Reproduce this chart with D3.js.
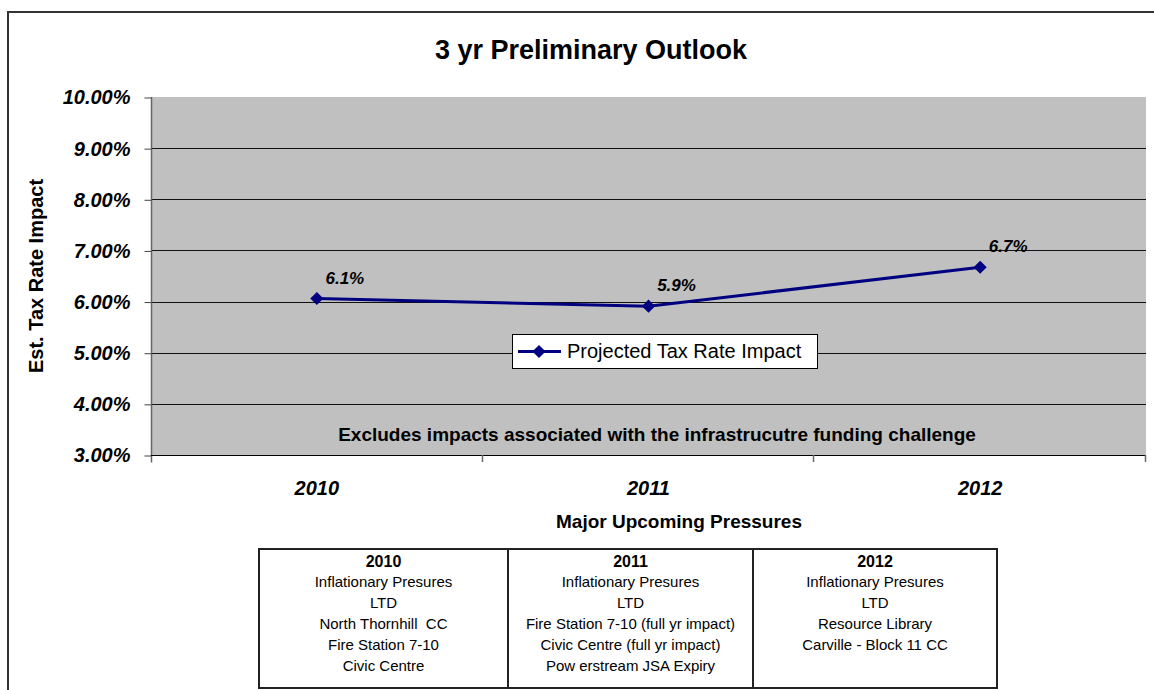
<!DOCTYPE html>
<html>
<head>
  <meta charset="utf-8">
  <script src="https://d3js.org/d3.v7.min.js"></script>
  <style>
    body { margin: 0; background: #fff; }
    text { font-family: "Liberation Sans", Arial, sans-serif; white-space: pre; }
  </style>
</head>
<body>
<script>
// chart data
var years = ["2010", "2011", "2012"];
var impact = [0.0606, 0.0591, 0.0667];
var seriesName = "Projected Tax Rate Impact";
var yTickValues = [0.03, 0.04, 0.05, 0.06, 0.07, 0.08, 0.09, 0.10];
var pressures2010 = ["Inflationary Presures", "LTD", "North Thornhill  CC", "Fire Station 7-10", "Civic Centre"];
var pressures2011 = ["Inflationary Presures", "LTD", "Fire Station 7-10 (full yr impact)", "Civic Centre (full yr impact)", "Pow erstream JSA Expiry"];
var pressures2012 = ["Inflationary Presures", "LTD", "Resource Library", "Carville - Block 11 CC"];

var width = 1154, height = 690;
var svg = d3.select("body").append("svg")
  .attr("width", width)
  .attr("height", height);

// outer chart border
svg.append("rect")
  .attr("x", 8).attr("y", 12)
  .attr("width", 1160).attr("height", 700)
  .style("fill", "none")
  .style("stroke", "#333")
  .style("stroke-width", 2);

/*
  plot area
*/
var plot = { left: 151, right: 1146, top: 97, bottom: 455 };

var x = d3.scaleBand()
  .domain(years)
  .range([plot.left, plot.right]);

var y = d3.scaleLinear()
  .domain([0.03, 0.10])
  .range([plot.bottom, plot.top]);

svg.append("rect")
  .attr("x", plot.left).attr("y", plot.top)
  .attr("width", plot.right - plot.left)
  .attr("height", plot.bottom - plot.top)
  .style("fill", "#c0c0c0");

// gridlines
svg.selectAll("line.grid")
  .data(yTickValues.filter(function (d) { return d > 0.03 && d < 0.10; }))
  .enter().append("line")
    .attr("class", "grid")
    .attr("x1", plot.left).attr("x2", plot.right)
    .attr("y1", function (d) { return Math.round(y(d)) + 0.5; })
    .attr("y2", function (d) { return Math.round(y(d)) + 0.5; })
    .style("stroke", "#111")
    .style("stroke-width", 1);

// y axis
var yAxis = d3.axisLeft(y)
  .tickValues(yTickValues)
  .tickSize(7)
  .tickFormat(d3.format(".2%"));

var gy = svg.append("g")
  .attr("transform", "translate(" + (plot.left + 0.5) + ",0.5)")
  .call(yAxis);
gy.select(".domain")
  .attr("d", "M0," + (plot.top - 0.5) + "V" + (plot.bottom + 7))
  .style("stroke", "#666")
  .style("stroke-width", 1.5);
gy.selectAll(".tick line").style("stroke", "#444");
gy.selectAll(".tick text")
  .attr("x", -21)
  .style("font-size", "20px")
  .style("font-weight", "bold")
  .style("font-style", "italic")
  .style("fill", "#000");

// x axis
svg.append("line")
  .attr("x1", plot.left).attr("x2", plot.right)
  .attr("y1", plot.bottom + 0.5).attr("y2", plot.bottom + 0.5)
  .style("stroke", "#000");

svg.selectAll("line.xtick")
  .data(years)
  .enter().append("line")
    .attr("class", "xtick")
    .attr("x1", function (d) { return Math.round(x(d) + x.bandwidth()) - 0.5; })
    .attr("x2", function (d) { return Math.round(x(d) + x.bandwidth()) - 0.5; })
    .attr("y1", plot.bottom)
    .attr("y2", plot.bottom + 7)
    .style("stroke", "#666")
    .style("stroke-width", 1.5);

svg.selectAll("text.xlabel")
  .data(years)
  .enter().append("text")
    .attr("class", "xlabel")
    .attr("x", function (d) { return x(d) + x.bandwidth() / 2; })
    .attr("y", 495)
    .attr("text-anchor", "middle")
    .style("font-size", "20px")
    .style("font-weight", "bold")
    .style("font-style", "italic")
    .text(function (d) { return d; });

/*
  titles
*/
svg.append("text")
  .attr("x", 591).attr("y", 59)
  .attr("text-anchor", "middle")
  .style("font-size", "27px")
  .style("font-weight", "bold")
  .text("3 yr Preliminary Outlook");

svg.append("text")
  .attr("transform", "translate(43," + ((plot.top + plot.bottom) / 2) + ") rotate(-90)")
  .attr("text-anchor", "middle")
  .style("font-size", "20px")
  .style("font-weight", "bold")
  .text("Est. Tax Rate Impact");

svg.append("text")
  .attr("x", 679).attr("y", 528)
  .attr("text-anchor", "middle")
  .style("font-size", "19px")
  .style("font-weight", "bold")
  .text("Major Upcoming Pressures");

svg.append("text")
  .attr("x", 657).attr("y", 441)
  .attr("text-anchor", "middle")
  .style("font-size", "19px")
  .style("font-weight", "bold")
  .text("Excludes impacts associated with the infrastrucutre funding challenge");

/*
  series
*/
var line = d3.line()
  .x(function (d, i) { return x(years[i]) + x.bandwidth() / 2; })
  .y(function (d) { return y(d); });

svg.append("path")
  .datum(impact)
  .attr("d", line)
  .style("fill", "none")
  .style("stroke", "#000080")
  .style("stroke-width", 3);

var diamond = d3.symbol().type(d3.symbolDiamond2).size(110);

svg.selectAll("path.marker")
  .data(impact)
  .enter().append("path")
    .attr("class", "marker")
    .attr("d", diamond)
    .attr("transform", function (d, i) {
      return "translate(" + (x(years[i]) + x.bandwidth() / 2) + "," + y(d) + ")";
    })
    .style("fill", "#000080");

svg.selectAll("text.value")
  .data(impact)
  .enter().append("text")
    .attr("class", "value")
    .attr("x", function (d, i) { return x(years[i]) + x.bandwidth() / 2 + 28; })
    .attr("y", function (d) { return y(d) - 15; })
    .attr("text-anchor", "middle")
    .style("font-size", "17px")
    .style("font-weight", "bold")
    .style("font-style", "italic")
    .text(function (d) { return d3.format(".1%")(d); });

/*
  legend
*/
var legend = svg.append("g").attr("transform", "translate(512,334)");
legend.append("rect")
  .attr("x", 0.5).attr("y", 0.5)
  .attr("width", 305).attr("height", 34)
  .style("fill", "#fff")
  .style("stroke", "#000");
legend.append("line")
  .attr("x1", 6).attr("x2", 49)
  .attr("y1", 17.5).attr("y2", 17.5)
  .style("stroke", "#000080")
  .style("stroke-width", 3);
legend.append("path")
  .attr("d", diamond)
  .attr("transform", "translate(27,17.5)")
  .style("fill", "#000080");
legend.append("text")
  .attr("x", 55).attr("y", 24)
  .style("font-size", "20px")
  .text(seriesName);

/*
  pressures table
*/
var table = [
  { year: years[0], items: pressures2010 },
  { year: years[1], items: pressures2011 },
  { year: years[2], items: pressures2012 }
];
var colEdges = [259, 508, 753, 997];
var tableTop = 549, tableBottom = 688;

var cells = svg.selectAll("g.cell")
  .data(table)
  .enter().append("g")
    .attr("class", "cell");

cells.append("rect")
  .attr("x", function (d, i) { return colEdges[i]; })
  .attr("y", tableTop)
  .attr("width", function (d, i) { return colEdges[i + 1] - colEdges[i]; })
  .attr("height", tableBottom - tableTop)
  .style("fill", "#fff")
  .style("stroke", "#222")
  .style("stroke-width", 2);

cells.append("text")
  .attr("x", function (d, i) { return (colEdges[i] + colEdges[i + 1]) / 2; })
  .attr("y", 567)
  .attr("text-anchor", "middle")
  .style("font-size", "16px")
  .style("font-weight", "bold")
  .text(function (d) { return d.year; });

cells.each(function (d, i) {
  d3.select(this).selectAll("text.item")
    .data(d.items)
    .enter().append("text")
      .attr("class", "item")
      .attr("x", (colEdges[i] + colEdges[i + 1]) / 2)
      .attr("y", function (t, j) { return 587 + j * 21; })
      .attr("text-anchor", "middle")
      .style("font-size", "15px")
      .text(function (t) { return t; });
});
</script>
</body>
</html>
